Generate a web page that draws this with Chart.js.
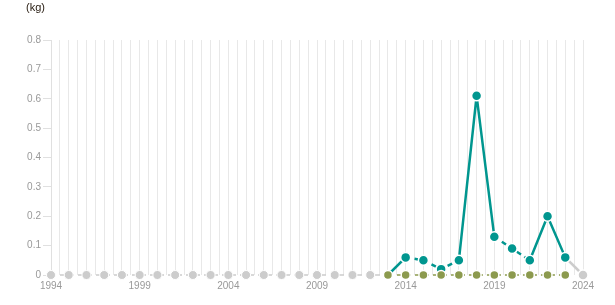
<!DOCTYPE html>
<html>
<head>
<meta charset="utf-8">
<script src="https://cdn.jsdelivr.net/npm/chart.js@4/dist/chart.umd.min.js"></script>
<style>
  html, body { margin: 0; padding: 0; background: #fff; }
  #wrap { position: relative; width: 615px; height: 305px; }
  #unit { position: absolute; left: 26px; top: 1px; font: 11px Arial, "Liberation Sans", sans-serif; color: #2b2015; }
</style>
</head>
<body>
<div id="wrap">
  <div id="unit">(kg)</div>
  <canvas id="chart" width="615" height="305"></canvas>
</div>
<script>
// years with no reported data (flat at zero)
let missingYears = [1994, 1995, 1996, 1997, 1998, 1999, 2000, 2001, 2002, 2003, 2004, 2005, 2006, 2007, 2008, 2009, 2010, 2011, 2012, 2013]
// reporting period baseline
let baseYears = [2013, 2014, 2015, 2016, 2017, 2018, 2019, 2020, 2021, 2022, 2023]
// measured series
let seriesYears = [2013, 2014, 2015, 2016, 2017, 2018, 2019, 2020, 2021, 2022, 2023, 2024]
let seriesValues = [0, 0.06, 0.05, 0.02, 0.05, 0.61, 0.13, 0.09, 0.05, 0.20, 0.06, 0]
let xLabelYears = [1994, 1999, 2004, 2009, 2014, 2019, 2024]
let yTicks = [0, 0.1, 0.2, 0.3, 0.4, 0.5, 0.6, 0.7, 0.8]

let teal = "#00968f"
let olive = "#8c9a4e"
let grey = "#cccccc"
let dashedAfter = [false, true, true, true, false, false, true, true, false, false, false]

let lastIdx = seriesYears.length - 1

new Chart("chart", {
  type: "line",
  data: {
    datasets: [
      {
        order: 1,
        data: seriesYears.map((y, i) => ({ x: y, y: seriesValues[i] })),
        borderColor: teal,
        borderWidth: 2.5,
        borderJoinStyle: "round",
        pointRadius: seriesYears.map((y, i) => i === 0 ? 0 : 5),
        pointBackgroundColor: seriesYears.map((y, i) => i === lastIdx ? grey : teal),
        pointBorderColor: "#fff",
        pointBorderWidth: 1.5,
        segment: {
          borderDash: ctx => dashedAfter[ctx.p0DataIndex] ? [5, 4] : undefined,
          borderColor: ctx => ctx.p1DataIndex === lastIdx ? grey : undefined
        }
      },
      {
        order: 0,
        data: baseYears.map(y => ({ x: y, y: 0 })),
        borderColor: olive,
        borderWidth: 1.5,
        borderDash: [5, 4],
        pointRadius: 4.5,
        pointBackgroundColor: olive,
        pointBorderColor: "#fff",
        pointBorderWidth: 1.5
      },
      {
        order: 2,
        data: missingYears.map(y => ({ x: y, y: 0 })),
        borderColor: grey,
        borderWidth: 1.5,
        borderDash: [5, 4],
        pointRadius: missingYears.map((y, i) => i === missingYears.length - 1 ? 0 : 4.5),
        pointBackgroundColor: grey,
        pointBorderColor: "#fff",
        pointBorderWidth: 1
      }
    ]
  },
  options: {
    responsive: false,
    animation: false,
    clip: false,
    layout: { padding: { top: 40, right: 32, left: 0, bottom: 0 } },
    plugins: { legend: { display: false }, tooltip: { enabled: false } },
    scales: {
      x: {
        type: "linear",
        min: 1994,
        max: 2024,
        grid: { color: "#e8e8e8", drawTicks: false, lineWidth: 1 },
        border: { display: false },
        afterFit: axis => { axis.height = 30 },
        ticks: {
          stepSize: 0.5,
          maxTicksLimit: 100,
          autoSkip: false,
          maxRotation: 0,
          padding: 5,
          color: "#999",
          font: { family: "Arial, 'Liberation Sans', sans-serif", size: 10 },
          callback: v => xLabelYears.includes(v) ? String(v) : ""
        }
      },
      y: {
        min: 0,
        max: 0.8,
        afterBuildTicks: axis => { axis.ticks = yTicks.map(v => ({ value: v })) },
        afterFit: axis => { axis.width = 51 },
        grid: { drawOnChartArea: false, color: "#e0e0e0", tickLength: 8 },
        border: { color: "#e0e0e0" },
        ticks: {
          padding: 2,
          color: "#999",
          font: { family: "Arial, 'Liberation Sans', sans-serif", size: 10 },
          callback: v => String(v)
        }
      }
    }
  }
});
</script>
</body>
</html>
